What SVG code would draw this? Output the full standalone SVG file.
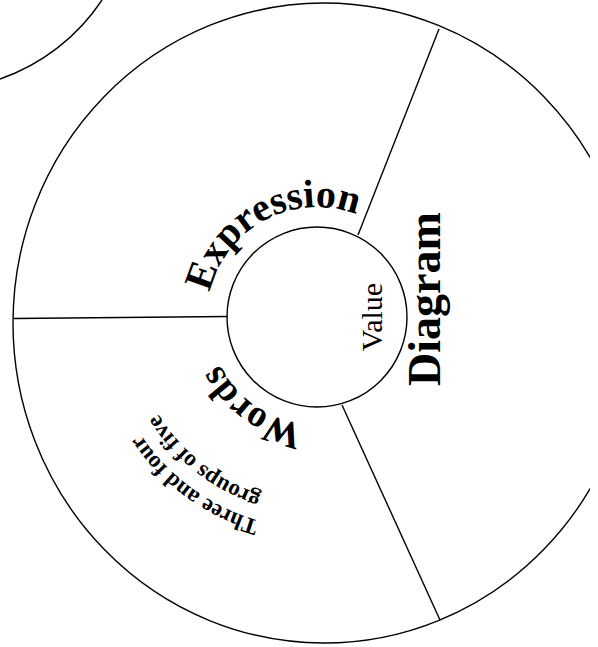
<svg xmlns="http://www.w3.org/2000/svg" width="598" height="647" viewBox="0 0 598 647">
<style>
.ln{fill:none;stroke:#000;stroke-width:1.4}
.big{font-family:"Liberation Serif","DejaVu Serif",serif;font-weight:bold;fill:#000}
.reg{font-family:"Liberation Serif","DejaVu Serif",serif;fill:#000}
</style>
<defs>
<clipPath id="pg"><rect x="0" y="0" width="590" height="647"/></clipPath>
<path id="pExpr" d="M208.7,336.1 A110,110 0 0 1 393.4,237.9"/>
<path id="pWords" d="M378.2,406.0 A108,108 0 0 1 212.9,288.1"/>
<path id="pL1" d="M403.2,510.7 A212,212 0 0 1 106.2,294.8"/>
<path id="pL2" d="M386.7,489.5 A186,186 0 0 1 132.8,291.1"/>
</defs>
<g id="neighbor">
<path class="ln" d="M0,79 A202,202 0 0 0 102,0" stroke-width="1.6"/>
</g>
<g id="outer" clip-path="url(#pg)">
<ellipse class="ln" cx="324" cy="323" rx="311" ry="320" stroke-width="1.7"/>
</g>
<g id="connectors">
<line class="ln" x1="14" y1="318.5" x2="228" y2="316.5"/>
<line class="ln" x1="358" y1="235" x2="439" y2="29"/>
<line class="ln" x1="342" y1="405" x2="440" y2="620"/>
</g>
<g id="value">
<circle class="ln" cx="317" cy="317" r="90" stroke-width="1.5"/>
<text class="reg" font-size="30" text-anchor="middle" transform="translate(382,317) rotate(-90)">Value</text>
</g>
<g id="expression">
<text class="big" font-size="40"><textPath href="#pExpr" startOffset="50%" text-anchor="middle">Expression</textPath></text>
</g>
<g id="diagram">
<text class="big" font-size="46" text-anchor="middle" transform="translate(440,299) rotate(-90)">Diagram</text>
</g>
<g id="words">
<text class="big" font-size="38"><textPath href="#pWords" startOffset="50%" text-anchor="middle">Words</textPath></text>
<text class="big" font-size="23"><textPath href="#pL1" startOffset="50%" text-anchor="middle">Three and four</textPath></text>
<text class="big" font-size="23"><textPath href="#pL2" startOffset="50%" text-anchor="middle">groups of five</textPath></text>
</g>
</svg>
